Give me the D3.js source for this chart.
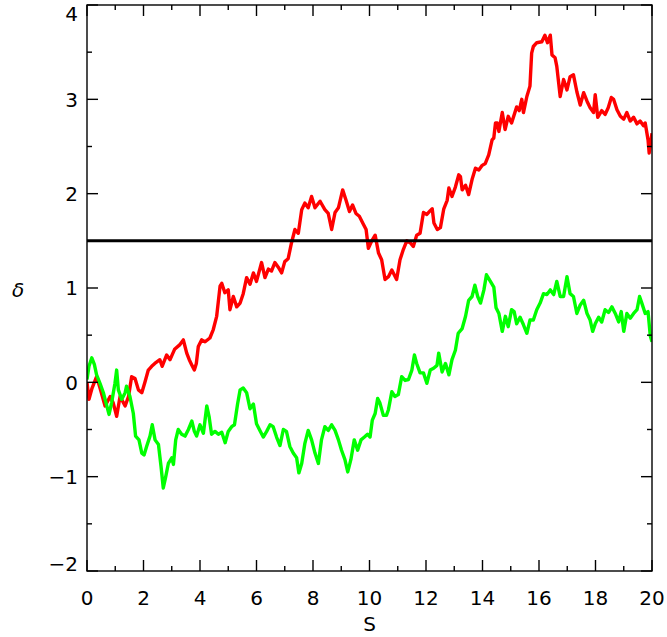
<!DOCTYPE html>
<html><head><meta charset="utf-8">
<script src="https://cdn.jsdelivr.net/npm/d3@7"></script>
<style>body{margin:0;background:#fff}text{font-family:"DejaVu Sans",sans-serif}</style>
</head><body>
<svg id="c" width="667" height="637"></svg>
<script>
const redS = [0,0.07,0.17,0.34,0.45,0.64,0.82,0.93,1.05,1.17,1.35,1.47,1.58,1.7,1.82,1.94,2.05,2.17,2.29,2.4,2.58,2.66,2.82,2.94,3.1,3.29,3.41,3.47,3.53,3.62,3.7,3.8,3.87,3.94,4.06,4.18,4.35,4.47,4.59,4.71,4.77,4.88,5.0,5.06,5.18,5.3,5.42,5.53,5.65,5.77,5.89,6.0,6.18,6.3,6.42,6.53,6.65,6.77,6.89,7.0,7.12,7.24,7.36,7.48,7.6,7.71,7.83,7.95,8.07,8.25,8.42,8.54,8.66,8.78,8.9,9.05,9.17,9.29,9.4,9.52,9.64,9.76,9.88,9.96,10.08,10.2,10.32,10.43,10.55,10.67,10.79,10.96,11.08,11.2,11.32,11.44,11.55,11.67,11.79,11.91,12.03,12.15,12.22,12.28,12.4,12.51,12.63,12.75,12.81,12.92,13.04,13.16,13.22,13.28,13.4,13.51,13.63,13.75,13.87,13.99,14.1,14.22,14.34,14.4,14.46,14.52,14.58,14.7,14.8,14.91,15.03,15.21,15.3,15.39,15.45,15.57,15.68,15.74,15.8,15.92,16.1,16.21,16.3,16.4,16.46,16.57,16.63,16.75,16.87,16.99,17.1,17.22,17.34,17.46,17.58,17.7,17.81,17.93,17.99,18.08,18.22,18.34,18.45,18.56,18.64,18.76,18.88,19.0,19.11,19.23,19.35,19.47,19.58,19.7,19.76,19.86,19.9,20.0];
const redDelta = [0,-0.18,-0.07,0.06,-0.05,-0.25,-0.15,-0.22,-0.36,-0.15,-0.25,-0.15,0.06,0.04,-0.08,-0.11,0,0.13,0.17,0.2,0.24,0.17,0.29,0.24,0.35,0.4,0.45,0.38,0.31,0.24,0.19,0.13,0.2,0.38,0.45,0.43,0.47,0.56,0.7,1.02,1.05,0.95,0.98,0.77,0.91,0.8,0.84,0.94,1.11,1.04,1.16,1.07,1.27,1.11,1.2,1.18,1.27,1.22,1.16,1.28,1.31,1.48,1.62,1.58,1.83,1.9,1.85,1.97,1.85,1.92,1.83,1.79,1.62,1.8,1.85,2.04,1.93,1.81,1.88,1.79,1.76,1.69,1.62,1.42,1.5,1.56,1.37,1.3,1.09,1.12,1.19,1.09,1.3,1.41,1.5,1.48,1.44,1.56,1.58,1.8,1.78,1.82,1.84,1.69,1.62,1.64,1.84,1.93,2.06,1.97,2.07,2.2,2.18,2.04,2.09,1.99,2.15,2.27,2.25,2.3,2.32,2.41,2.57,2.59,2.75,2.75,2.66,2.86,2.68,2.82,2.75,2.92,2.88,3.0,2.86,3.03,3.14,3.49,3.56,3.6,3.61,3.68,3.6,3.68,3.47,3.44,3.35,3.03,3.21,3.1,3.24,3.26,3.08,2.94,3.07,2.98,2.91,2.86,3.05,2.81,2.88,2.84,2.91,3.02,3.0,2.89,2.82,2.79,2.86,2.77,2.81,2.74,2.77,2.72,2.75,2.57,2.43,2.64];
const greenS = [0,0.07,0.17,0.26,0.34,0.46,0.58,0.7,0.78,0.87,0.99,1.05,1.11,1.23,1.35,1.4,1.52,1.64,1.72,1.84,1.94,2.02,2.11,2.23,2.31,2.41,2.53,2.62,2.7,2.78,2.88,3.0,3.06,3.14,3.23,3.35,3.47,3.59,3.71,3.8,3.88,4.0,4.12,4.24,4.32,4.41,4.53,4.65,4.77,4.89,5.0,5.12,5.22,5.33,5.42,5.53,5.65,5.77,5.89,6.0,6.12,6.24,6.36,6.48,6.59,6.71,6.83,6.95,7.06,7.18,7.3,7.42,7.5,7.6,7.71,7.83,7.95,8.07,8.19,8.3,8.42,8.54,8.66,8.78,8.9,9.01,9.13,9.23,9.34,9.46,9.58,9.7,9.82,9.93,10.02,10.1,10.2,10.29,10.37,10.49,10.6,10.67,10.79,10.9,11.02,11.14,11.26,11.38,11.5,11.59,11.67,11.79,11.91,12.03,12.15,12.27,12.39,12.45,12.57,12.69,12.81,12.92,13.04,13.14,13.28,13.4,13.51,13.63,13.73,13.83,13.93,14.05,14.14,14.28,14.4,14.48,14.58,14.7,14.81,14.91,15.03,15.12,15.21,15.33,15.45,15.57,15.68,15.8,15.92,16.04,16.16,16.28,16.4,16.52,16.63,16.75,16.87,16.99,17.1,17.22,17.34,17.46,17.58,17.7,17.81,17.9,17.99,18.11,18.22,18.34,18.46,18.58,18.7,18.82,18.91,19.0,19.11,19.23,19.35,19.47,19.56,19.64,19.76,19.86,19.94,20.0];
const greenDelta = [0.03,0.17,0.26,0.19,0.08,-0.01,-0.11,-0.25,-0.34,-0.22,-0.01,0.13,-0.08,-0.18,-0.11,-0.04,-0.15,-0.33,-0.57,-0.61,-0.75,-0.77,-0.68,-0.57,-0.45,-0.61,-0.66,-0.89,-1.12,-1.01,-0.86,-0.8,-0.87,-0.61,-0.5,-0.55,-0.57,-0.5,-0.41,-0.52,-0.57,-0.45,-0.54,-0.25,-0.36,-0.55,-0.52,-0.55,-0.53,-0.64,-0.52,-0.47,-0.45,-0.23,-0.08,-0.06,-0.11,-0.28,-0.23,-0.44,-0.51,-0.58,-0.52,-0.45,-0.47,-0.58,-0.67,-0.5,-0.52,-0.68,-0.75,-0.8,-0.96,-0.86,-0.65,-0.51,-0.61,-0.75,-0.86,-0.61,-0.47,-0.51,-0.45,-0.51,-0.61,-0.72,-0.82,-0.95,-0.82,-0.61,-0.72,-0.61,-0.58,-0.55,-0.58,-0.4,-0.33,-0.17,-0.22,-0.35,-0.35,-0.29,-0.1,-0.15,-0.13,0.06,0.02,0.03,0.13,0.29,0.2,0.1,0.1,-0.01,0.13,0.15,0.18,0.31,0.11,0.2,0.08,0.24,0.34,0.52,0.57,0.7,0.87,0.91,1.03,0.91,0.84,0.98,1.14,1.07,1.01,0.79,0.73,0.54,0.7,0.59,0.77,0.75,0.62,0.69,0.61,0.52,0.66,0.66,0.77,0.84,0.94,0.93,0.98,0.93,1.07,0.91,0.91,1.12,0.94,0.91,0.73,0.82,0.87,0.73,0.66,0.54,0.62,0.69,0.64,0.77,0.74,0.8,0.73,0.64,0.75,0.54,0.73,0.68,0.73,0.77,0.91,0.84,0.73,0.75,0.49,0.43];
const threshold = 1.5;
const xTicks = [0,2,4,6,8,10,12,14,16,18,20];
const yTicks = [-2,-1,0,1,2,3,4];
const xMinor = [1,3,5,7,9,11,13,15,17,19];
const yMinor = [-1.5,-0.5,0.5,1.5,2.5,3.5];

const svg = d3.select("#c");
const L = 87, R = 652, T = 5, B = 571;
const x = d3.scaleLinear().domain([0,20]).range([L,R]);
const y = d3.scaleLinear().domain([-2,4]).range([B,T]);

svg.append("clipPath").attr("id","pc").append("rect")
  .attr("x",L).attr("y",T).attr("width",R-L).attr("height",B-T);
const g = svg.append("g").attr("clip-path","url(#pc)");

const line = d3.line().x(d=>x(d[0])).y(d=>y(d[1]));
g.append("path").datum(redS.map((s,i)=>[s,redDelta[i]]))
  .attr("d",line).attr("fill","none").attr("stroke","#ff0000").attr("stroke-width",3.4).attr("stroke-linejoin","round");
g.append("path").datum(greenS.map((s,i)=>[s,greenDelta[i]]))
  .attr("d",line).attr("fill","none").attr("stroke","#00ff00").attr("stroke-width",3.4).attr("stroke-linejoin","round");
g.append("line").attr("x1",x(0)).attr("x2",x(20)).attr("y1",y(threshold)).attr("y2",y(threshold))
  .attr("stroke","#000").attr("stroke-width",3);

// frame and ticks
const ax = svg.append("g").attr("stroke","#000").attr("stroke-width",1.4).attr("fill","none");
ax.append("rect").attr("x",L).attr("y",T).attr("width",R-L).attr("height",B-T);
function xt(vals, len){
  ax.selectAll(null).data(vals).join("line")
    .attr("x1",d=>x(d)).attr("x2",d=>x(d)).attr("y1",B).attr("y2",B-len);
  ax.selectAll(null).data(vals).join("line")
    .attr("x1",d=>x(d)).attr("x2",d=>x(d)).attr("y1",T).attr("y2",T+len);
}
function yt(vals, len){
  ax.selectAll(null).data(vals).join("line")
    .attr("y1",d=>y(d)).attr("y2",d=>y(d)).attr("x1",L).attr("x2",L+len);
  ax.selectAll(null).data(vals).join("line")
    .attr("y1",d=>y(d)).attr("y2",d=>y(d)).attr("x1",R).attr("x2",R-len);
}
xt(xTicks, 11); xt(xMinor, 5);
yt(yTicks, 11); yt(yMinor, 5);

const fmtY = d=> d<0 ? "\u2212"+Math.abs(d) : ""+d;
svg.append("g").selectAll("text").data(xTicks).join("text")
  .attr("x",d=>x(d)).attr("y",605).attr("text-anchor","middle")
  .attr("font-size",20).text(d=>d);
svg.append("g").selectAll("text").data(yTicks).join("text")
  .attr("x",L-9).attr("y",d=> d===4 ? y(d)+9 : d===-2 ? y(d)-7 : y(d))
  .attr("dy","0.36em").attr("text-anchor","end")
  .attr("font-size",20).text(fmtY);

svg.append("text").attr("x",(L+R)/2).attr("y",631).attr("text-anchor","middle")
  .attr("font-size",20).text("S");
svg.append("text").attr("x",18).attr("y",297).attr("text-anchor","middle")
  .attr("font-size",20).attr("font-style","italic").text("δ");
</script>
</body></html>
